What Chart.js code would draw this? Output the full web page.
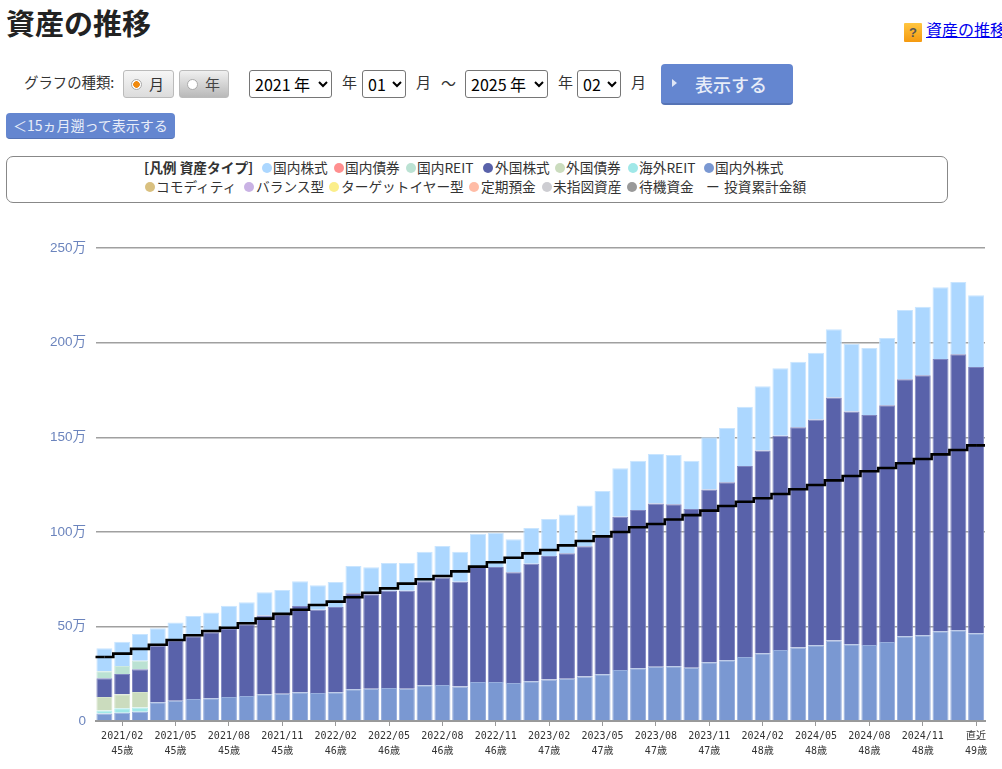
<!DOCTYPE html>
<html lang="ja"><head><meta charset="utf-8">
<script src="https://cdn.jsdelivr.net/npm/chart.js@4"></script>
<style>
html,body{margin:0;padding:0;background:#fff;overflow:hidden;width:1002px;height:769px}
body{position:relative;font-family:"Noto Sans CJK JP","Noto Sans",sans-serif;color:#333}
.a{position:absolute;white-space:nowrap;line-height:1}
h1{position:absolute;left:6px;top:5px;margin:0;font-size:29px;line-height:34px;font-weight:700;color:#222;letter-spacing:0}
select{position:absolute;top:70px;height:28px;box-sizing:border-box;font:16px "Noto Sans CJK JP","Liberation Sans",sans-serif;color:#000;background:#fff;border:1px solid #767676;border-radius:3px;padding:0 0 0 1px;line-height:1}
.tog{position:absolute;top:70px;height:28px;box-sizing:border-box;border:1px solid #bbb;border-radius:3px;font-size:15px;line-height:28px}
.radio{position:absolute;left:7px;top:8px;width:11px;height:11px;border-radius:50%;background:#fff;border:1px solid #aaa;box-sizing:border-box}
.btn{position:absolute;background:#6486d0;color:#e8edf8;border-radius:4px;box-sizing:border-box}
#legend{position:absolute;left:6px;top:156px;width:942px;height:47px;box-sizing:border-box;border:1px solid #888;border-radius:7px}
.dot{position:absolute;width:10px;height:10px;border-radius:50%}
.lg{position:absolute;white-space:nowrap;font-size:13.7px;line-height:18px;color:#333}
#wrap{position:absolute;left:0;top:230px;width:1002px;height:539px}
</style></head><body>
<h1>資産の推移</h1>
<div class="a" style="left:904px;top:23px;width:18px;height:19px;background:linear-gradient(#ffc640,#f59a10);border-radius:1px;text-align:center;font:700 13px/19px 'Liberation Sans';color:#555">?</div>
<a class="a" href="#" onclick="return false" style="left:926px;top:19px;font-size:16px;line-height:20px;color:#0000ee;text-decoration:underline">資産の推移</a>

<div class="a" style="left:24px;top:74px;font-size:14.4px;line-height:16px">グラフの種類:</div>
<div class="tog" style="left:123px;width:51px;background:linear-gradient(#f6f6f6,#dcdcdc)"><span class="radio" style="background:radial-gradient(circle,#f08a10 0 3px,#fff 3.6px)"></span><span style="position:absolute;left:25px;top:-1px">月</span></div>
<div class="tog" style="left:179px;width:50px;background:linear-gradient(#f0f0f0,#b9b9b9)"><span class="radio"></span><span style="position:absolute;left:25px;top:-1px;color:#444">年</span></div>

<select style="left:249px;width:83px"><option>2021 年</option></select>
<div class="a" style="left:342px;top:74px;font-size:15px">年</div>
<select style="left:362px;width:44px"><option>01</option></select>
<div class="a" style="left:416px;top:74px;font-size:15px">月</div>
<div class="a" style="left:441px;top:75px;font-size:15px">～</div>
<select style="left:465px;width:83px"><option>2025 年</option></select>
<div class="a" style="left:558px;top:74px;font-size:15px">年</div>
<select style="left:577px;width:44px"><option>02</option></select>
<div class="a" style="left:631px;top:74px;font-size:15px">月</div>

<div class="btn" style="left:661px;top:64px;width:132px;height:41px;border-bottom:2px solid #5573b5">
  <span style="position:absolute;left:11px;top:15px;width:0;height:0;border-left:5px solid #dfe6f5;border-top:4px solid transparent;border-bottom:4px solid transparent"></span>
  <span style="position:absolute;left:34px;top:7px;font-size:18px;line-height:26px;font-weight:500">表示する</span>
</div>
<div class="btn" style="left:6px;top:113px;width:169px;height:26px;border-bottom:1px solid #5573b5;font-size:14px;line-height:25px;padding-left:7px;white-space:nowrap">＜15ヵ月遡って表示する</div>

<div id="legend"></div>
<div id="wrap"><canvas id="c" width="1002" height="539"></canvas></div>

<script>
const periods = ["2021/01","2021/02","2021/03","2021/04","2021/05","2021/06","2021/07","2021/08","2021/09","2021/10","2021/11","2021/12",
"2022/01","2022/02","2022/03","2022/04","2022/05","2022/06","2022/07","2022/08","2022/09","2022/10","2022/11","2022/12",
"2023/01","2023/02","2023/03","2023/04","2023/05","2023/06","2023/07","2023/08","2023/09","2023/10","2023/11","2023/12",
"2024/01","2024/02","2024/03","2024/04","2024/05","2024/06","2024/07","2024/08","2024/09","2024/10","2024/11","2024/12",
"2025/01","直近"];
const ages = [45,45,45,45,45,45,45,45,45,45,45,45,46,46,46,46,46,46,46,46,46,46,46,46,47,47,47,47,47,47,47,47,47,47,47,47,48,48,48,48,48,48,48,48,48,48,48,48,48,49];

const bothStocks = [3.9,4.4,4.9,9.9,10.7,11.6,12,12.7,13.2,14.1,14.4,15.2,14.8,15.2,16.8,17.1,17.4,17.1,18.9,19,18.3,20.6,20.6,20.1,21,22,22.3,23.5,24.7,27,27.9,28.7,28.9,28.2,31,32.1,33.8,35.8,37.5,38.9,40,42.6,40.5,40.2,41.8,44.8,45.3,47.4,47.9,46.4];
const overseasReit = [1.7,2.3,2.3];
const foreignBonds = [7.1,7.4,8.1];
const foreignStocks = [9.9,10.7,12,29.9,31.6,33.2,34.9,36.3,37.9,41.6,41.6,45.6,44,45.1,50.7,49.9,51.5,51.8,54.9,56.9,55.3,60.8,60.8,58.5,62.1,65.2,66.3,68.8,72.8,81,83.6,86.3,85.6,83.8,91.3,94.1,101,107.2,113.3,116.3,119.4,128.4,123.1,121.5,125.1,135.8,137.5,143.9,145.9,140.7];
const domesticReit = [3.7,4.3,4.6];
const domesticStocks = [12.1,12.8,14.1,9.2,9.7,10.7,10.5,11.9,11.6,12.3,13.2,13,12.9,13.2,14.4,14.2,14.6,14.6,15.7,16.6,15.9,17.6,18.1,17.4,18.9,19.6,20.6,21.6,24.1,25.6,26.1,26.1,26.1,25.6,27.7,28.7,31.3,33.9,35.6,34.7,35.3,36,35.8,35.4,35.5,36.6,36.2,37.9,38.2,37.9];
const invested = [33.8,35.6,38.1,40.3,42.8,45.3,47.6,49.3,51.7,54.1,56.6,58.8,61.3,63.1,65.4,67.8,70.1,72.6,74.9,76.6,79.1,81.6,83.9,86.3,88.6,90.4,92.8,95.1,97.6,99.9,102.4,104.1,106.5,108.8,111.2,113.6,115.9,117.7,120,122.5,124.7,127.2,129.5,132,133.7,136.2,138.5,140.9,143.2,145.7];
const yTicks = [0,50,100,150,200,250];

const legendLabels = ["国内株式","国内債券","国内REIT","外国株式","外国債券","海外REIT","国内外株式","コモディティ","バランス型","ターゲットイヤー型","定期預金","未指図資産","待機資金"];
const legendColors = ["#acd7ff","#ff8f8f","#bbe2d3","#5962aa","#cbdcbe","#a0e8e8","#7a98d2","#d9c07f","#c9b2e4","#fbee8a","#ffbca6","#cdcdd2","#999999"];
const legendDotX = [262,334,406,483,555,628,704,145,244,329,469,542,627];
const legendTextX = [273,345,417,495,566,639,715,156,256,341,481,553,639];

const lg = document.getElementById('legend');
function put(cls, x, row, txt, extra){
  const e = document.createElement('div'); e.className = cls;
  e.style.left = (x-7)+'px';
  if (cls==='dot'){ e.style.top = (row?25:6)+'px'; e.style.background = extra; }
  else { e.style.top = (row?20:0.5)+'px'; e.textContent = txt; if(extra) e.style.cssText += extra; }
  lg.appendChild(e);
}
put('lg',144,0,'[凡例 資産タイプ]','font-weight:700;');
legendLabels.forEach((t,i)=>{ const r=i>=7?1:0; put('dot',legendDotX[i],r,'',legendColors[i]); put('lg',legendTextX[i],r,t); });
put('lg',706,1,'ー'); put('lg',724,1,'投資累計金額');

function bar(label, data, bg, edge){
  return {type:'bar',label,data,backgroundColor:bg,borderColor:edge,borderWidth:1,borderSkipped:'bottom',stack:'a',order:2,barPercentage:0.9,categoryPercentage:1};
}
// The reference's stepped line runs to both edges of the plot: carry its first and last level out to the edges.
const lineEnds = {id:'lineEnds',afterDatasetsDraw(chart){
  const {ctx,chartArea:a,scales:{x,y}} = chart;
  const last = invested.length-1;
  ctx.save();ctx.strokeStyle='#000';ctx.lineWidth=2.6;ctx.beginPath();
  ctx.moveTo(a.left,y.getPixelForValue(invested[0]));ctx.lineTo(x.getPixelForValue(0),y.getPixelForValue(invested[0]));
  ctx.moveTo(x.getPixelForValue(last),y.getPixelForValue(invested[last]));ctx.lineTo(a.right,y.getPixelForValue(invested[last]));
  ctx.stroke();ctx.restore();
}};

new Chart(document.getElementById('c'),{
  plugins:[lineEnds],
  data:{labels:periods,datasets:[
    bar('国内外株式',bothStocks,'#7a98d2','#97aedd'),
    bar('海外REIT',overseasReit,'#a0e8e8','#b8eeee'),
    bar('外国債券',foreignBonds,'#cbdcbe','#d6e4cc'),
    bar('外国株式',foreignStocks,'#5962aa','#7f86c0'),
    bar('国内REIT',domesticReit,'#bbe2d3','#cde9de'),
    bar('国内株式',domesticStocks,'#acd7ff','#c9e5ff'),
    {type:'line',label:'投資累計金額',data:invested,stack:'line',stepped:'middle',borderColor:'#000',borderWidth:2.6,pointRadius:0,fill:false,order:1,borderJoinStyle:'miter'}
  ]},
  options:{
    responsive:false,animation:false,devicePixelRatio:1,
    layout:{padding:{left:0,right:17,top:18,bottom:0}},
    plugins:{legend:{display:false},tooltip:{enabled:false}},
    scales:{
      x:{stacked:true,offset:true,
        afterFit(s){s.height=48},
        afterBuildTicks(s){s.ticks=s.ticks.filter(t=>t.value%3===1)},
        grid:{offset:false,drawOnChartArea:false,drawTicks:true,tickLength:5,color:'#999',tickWidth:1},
        border:{display:true,color:'#999',width:2},
        ticks:{autoSkip:false,maxRotation:0,minRotation:0,padding:3,color:'#333',
          font:{family:"'DejaVu Sans Mono','Noto Sans CJK JP'",size:10,lineHeight:1.5},
          callback(v){return [periods[v],ages[v]+'歳']}}
      },
      y:{stacked:true,min:0,max:250,
        afterFit(s){s.width=95.5},
        afterBuildTicks(s){s.ticks=yTicks.map(v=>({value:v}))},
        grid:{color:'#a0a0a0',lineWidth:1.4,drawTicks:false},
        border:{display:false},
        ticks:{padding:9.5,color:'#6b84bd',font:{family:"'Liberation Sans','Noto Sans CJK JP'",size:13.5},
          callback(v){return v===0?'0':v+'万'}}
      }
    }
  }
});
</script>
</body></html>
